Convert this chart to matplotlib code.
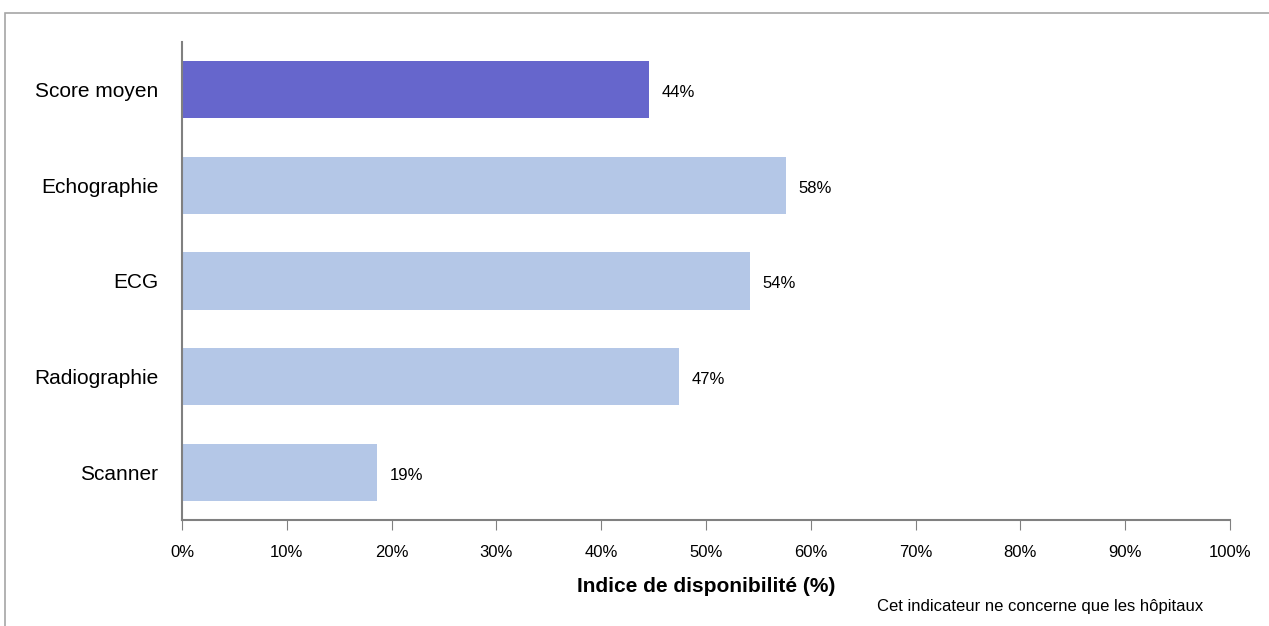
import matplotlib.pyplot as plt
from matplotlib.patches import Rectangle

plt.rcParams['font.family'] = ['Liberation Sans Narrow', 'Liberation Sans', 'DejaVu Sans']

categories = ['Score moyen', 'Echographie', 'ECG', 'Radiographie', 'Scanner']
values = [44.6, 57.6, 54.2, 47.4, 18.6]
value_labels = ['44%', '58%', '54%', '47%', '19%']
colors = ['#6666CC', '#B4C7E7', '#B4C7E7', '#B4C7E7', '#B4C7E7']
xticks = list(range(0, 101, 10))

W, H = 1269, 626
fig = plt.figure(figsize=(W / 100, H / 100), dpi=100)

# outer frame of the chart area
fig.patches.append(Rectangle((5 / W, -0.01), 1.1, (H - 13) / H + 0.01,
                             transform=fig.transFigure, fill=False,
                             edgecolor='#A6A6A6', linewidth=1.2))

ax = fig.add_axes([182 / W, (H - 520) / H, (1230 - 182) / W, (520 - 42) / H])
y = list(range(len(categories)))
ax.barh(y, values, height=0.6, color=colors)
for yi, v, lab in zip(y, values, value_labels):
    ax.text(v + 1.2, yi + 0.03, lab, va='center', ha='left', fontsize=12)

ax.set_xlim(0, 100)
ax.set_ylim(len(categories) - 0.5, -0.5)
ax.set_yticks(y)
ax.set_yticklabels(categories, fontsize=15)
ax.tick_params(axis='y', length=0, pad=17)
ax.set_xticks(xticks)
ax.set_xticklabels([f'{t}%' for t in xticks], fontsize=12)
ax.tick_params(axis='x', length=7, color='#808080', pad=11, direction='out')
for s in ['top', 'right']:
    ax.spines[s].set_visible(False)
ax.spines['left'].set_color('#808080')
ax.spines['left'].set_linewidth(1.5)
ax.spines['bottom'].set_color('#808080')
ax.spines['bottom'].set_linewidth(1.5)

ax.set_xlabel('Indice de disponibilité (%)', fontsize=15, fontweight='bold', labelpad=12)
fig.text(1203 / W, (H - 607) / H, 'Cet indicateur ne concerne que les hôpitaux',
         ha='right', va='center', fontsize=12)

fig.savefig('out.png', dpi=100)
